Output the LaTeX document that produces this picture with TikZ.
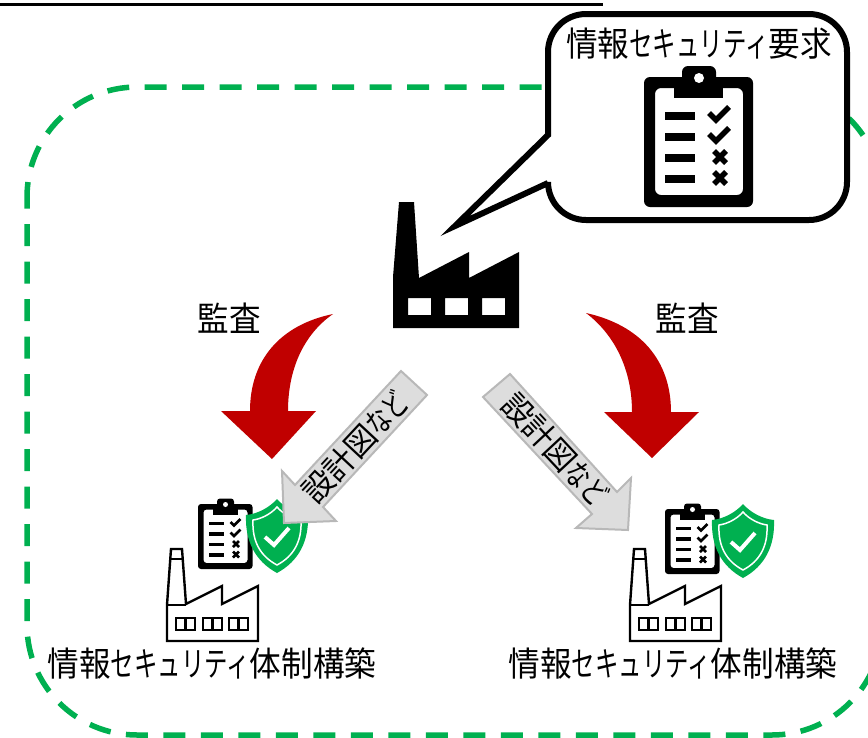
\documentclass[tikz,border=0pt]{standalone}
\usepackage{graphicx}
\usepackage{fontspec}
\setmainfont{Noto Sans CJK JP}
\definecolor{dgreen}{HTML}{00B050}
\definecolor{dred}{HTML}{C00000}
\definecolor{lgray}{HTML}{DDDDDD}
\definecolor{mgray}{HTML}{B8B8B8}
\newcommand\kn[1]{\scalebox{0.74}[1]{#1}}
\newcommand\nar[1]{\scalebox{0.93}[1]{#1}}
\newcommand\clipbd[3]{%
\begin{scope}[shift={(#1,#2)},scale=#3]
\pgfmathsetmacro\crad{6*#3}
\pgfmathsetmacro\lw{5.5*#3}
\fill[black,even odd rule,rounded corners=\crad pt] (0,0) rectangle (109,130) (11,11) rectangle (99,118);
\fill[black] (30,0) rectangle (79,21);
\fill[black,rounded corners=\crad pt] (38,8) -- (38,-11) -- (72,-11) -- (72,8) -- cycle;
\fill[white] (55,1) circle (5);
\foreach \yy in {35,56,77,98} {\fill[black] (21,\yy) rectangle (51,\yy+7.5);}
\draw[black,line width=\lw pt] (65,36) -- (72,43) -- (85,30);
\draw[black,line width=\lw pt] (65,57) -- (72,64) -- (85,51);
\draw[black,line width=\lw pt] (70,74) -- (82,86) (82,74) -- (70,86);
\draw[black,line width=\lw pt] (70,95) -- (82,107) (82,95) -- (70,107);
\end{scope}}
\newcommand\shieldmark[2]{%
\begin{scope}[shift={(#1,#2)}]
\fill[dgreen] (0,0) .. controls (8,9) and (20,15) .. (31,16) .. controls (32,42) and (22,62) .. (0,74) .. controls (-22,62) and (-32,42) .. (-31,16) .. controls (-20,15) and (-8,9) .. (0,0) -- cycle;
\draw[white,line width=1.5pt] (0,8) .. controls (6,15) and (16,20) .. (24,21) .. controls (25,42) and (17,57) .. (0,66) .. controls (-17,57) and (-25,42) .. (-24,21) .. controls (-16,20) and (-6,15) .. (0,8) -- cycle;
\draw[white,line width=4pt] (-12,38) -- (-3,46) -- (12,29);
\end{scope}}
\newcommand\smallfactory[1]{%
\begin{scope}[shift={(#1,0)},line width=2.4pt,black]
\draw[miter limit=10] (167,641) -- (167,605) -- (171,549) -- (182,549) -- (186,604) -- (222,586) -- (222,604) -- (258,586) -- (258,641) -- cycle;
\draw (167,605) -- (186,605) (169,559) -- (184,559);
\foreach \xx in {176,203,229} {\draw (\xx,618) rectangle (\xx+19,630) (\xx+9.5,618) -- (\xx+9.5,630);}
\end{scope}}
\tikzset{
 jptext/.style={font=\fontsize{34}{34}\selectfont,inner sep=0pt,text=black},
 arrowtext/.style={font=\fontsize{31}{31}\selectfont,inner sep=0pt,text=black},
 grayarrow/.style={fill=lgray,draw=mgray,line width=2pt,line join=miter},
 redarrow/.style={fill=dred,draw=none},
}
\begin{document}
\begin{tikzpicture}[x=1pt,y=-1pt]
\useasboundingbox (0,0) rectangle (868,737);
\clip (0,0) rectangle (868,737);
\fill[white] (0,0) rectangle (868,737);
% heading underline
\draw[black,line width=3.4pt] (0,4.5) -- (603,4.5);
% green dashed frame
\draw[dgreen,line width=5.5pt,dash pattern=on 22pt off 15.5pt,rounded corners=110pt] (27,300) -- (27,87) -- (882,87) -- (882,735) -- (27,735) -- cycle;
% bubble
\draw[black,fill=white,line width=6pt,line join=miter,miter limit=20] (548,135) [rounded corners=38pt] -- (548,14) -- (847,14) -- (847,220) -- (548,220) [sharp corners] -- (548,183) -- (455,226) -- cycle;
\node[jptext] (req) at (699,44) {\nar{情報\kn{セキュリティ}要求}};
\clipbd{644}{77}{1}
% big factory
\fill[black,even odd rule] (393,328) -- (393,277) -- (399,202) -- (414,202) -- (419,278) -- (469,252) -- (469,278) -- (519,252) -- (519,328) -- cycle
 (408,298) rectangle (431,315) (445,298) rectangle (468,315) (482,298) rectangle (505,315);
% red arrows
\fill[redarrow] (333,314) .. controls (280,325) and (250,360) .. (250,411) -- (221,411) -- (272,459) -- (316,411) -- (288,411) .. controls (288,370) and (303,335) .. (333,314) -- cycle;
\fill[redarrow] (586,313) .. controls (640,325) and (671,360) .. (671,412) -- (699,412) -- (652,458) -- (604,412) -- (632,412) .. controls (632,370) and (615,335) .. (586,313) -- cycle;
\node[jptext] (auditL) at (229,318) {\nar{監査}};
\node[jptext] (auditR) at (687,318) {\nar{監査}};
% small icons
\clipbd{198}{504}{0.5}
\shieldmark{277}{499}
\clipbd{665}{509}{0.5}
\shieldmark{743}{504}
\smallfactory{0}
\smallfactory{463}
% gray arrows
\draw[grayarrow] (401,371) -- (427,395) -- (323,507) -- (336,521) -- (284,523) -- (282,471) -- (295,485) -- cycle;
\draw[grayarrow] (510,374) -- (483,397) -- (592,514) -- (576,528) -- (628,530) -- (631,478) -- (617,492) -- cycle;
\node[arrowtext,rotate=47] (drawL) at (355,447) {設計図\kn{など}};
\node[arrowtext,rotate=-47] (drawR) at (555,449) {設計図\kn{など}};
\node[jptext] (sysL) at (212,664) {\nar{情報\kn{セキュリティ}体制構築}};
\node[jptext] (sysR) at (673,664) {\nar{情報\kn{セキュリティ}体制構築}};
\end{tikzpicture}
\end{document}
